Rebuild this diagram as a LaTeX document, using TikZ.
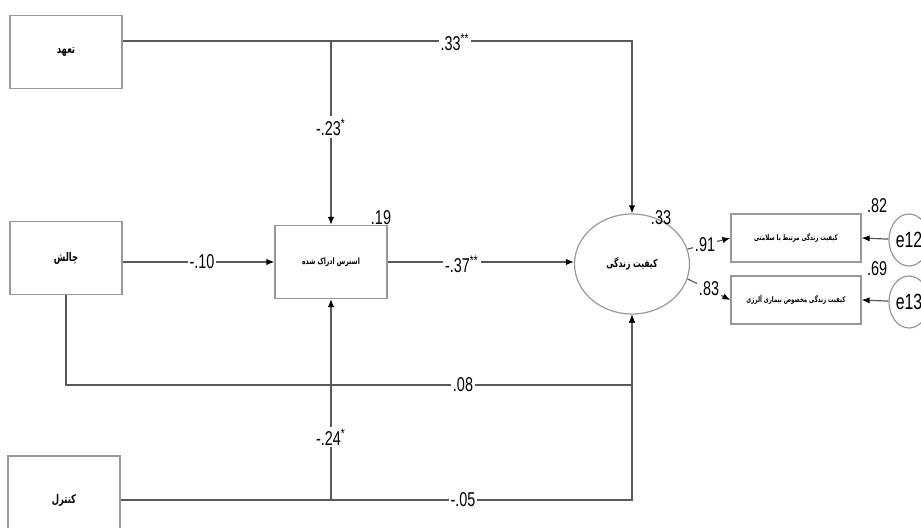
\documentclass[tikz,border=0pt]{standalone}
\usepackage{fontspec}
\setmainfont{Liberation Sans}[FakeStretch=0.72]
\newfontfamily\farsi[Script=Arabic, FakeStretch=0.7]{DejaVu Sans}
\TeXXeTstate=1
\usetikzlibrary{positioning, shapes, arrows.meta, calc}

\newcommand{\fa}[1]{{\farsi\bfseries\beginR #1\endR}}

\begin{document}
\begin{tikzpicture}[x=0.5pt, y=-0.5pt,
    box/.style={draw=gray!80, line width=0.6pt, minimum width=56pt, minimum height=36.5pt, inner sep=0pt, font=\fontsize{6}{6}\selectfont},
    ind/.style={draw=gray!80, line width=0.6pt, minimum width=65pt, minimum height=24pt, inner sep=0pt, font=\fontsize{3.9}{3.9}\selectfont},
    link/.style={draw=gray!70!black, line width=0.6pt},
    arr/.style={link, -{Latex[length=4pt, width=3.2pt, color=black]}},
    coef/.style={fill=white, inner sep=1pt, font=\fontsize{10}{10}\selectfont},
    rsq/.style={inner sep=0pt, font=\fontsize{10}{10}\selectfont},
    err/.style={ellipse, draw=gray!80, line width=0.6pt, minimum width=20pt, minimum height=26pt, inner sep=0pt, font=\fontsize{11}{11}\selectfont}]
    \useasboundingbox (0,0) rectangle (921,528);

    % exogenous variables
    \node (tahod) at (66, 52) [box] {\fa{تعهد}};
    \node (chalesh) at (66, 258) [box] {\fa{چالش}};
    \node (control) at (64, 500) [box, minimum height=44pt] {\fa{کنترل}};

    % mediator and outcome
    \node (stress) at (331, 262) [box, font=\fontsize{4.4}{4.4}\selectfont] {\fa{استرس ادراک شده}};
    \node (qol) at (632, 264) [ellipse, draw=gray!80, line width=0.6pt, minimum width=57.5pt, minimum height=50pt, inner sep=0pt, font=\fontsize{5.5}{5.5}\selectfont] {\fa{کیفیت زندگی}};

    % indicators and errors
    \node (hrq) at (796, 238) [ind] {\fa{کیفیت زندگی مرتبط با سلامتی}};
    \node (asq) at (796, 300) [ind] {\fa{کیفیت زندگی مخصوص بیماری آلرژی}};
    \node (e12) at (909, 240) [err] {e12};
    \node (e13) at (909, 302) [err] {e13};

    \coordinate (topR) at (632, 41);
    \coordinate (midR) at (632, 385);
    \coordinate (lowR) at (632, 500);

    % paths
    \draw[arr] ([yshift=5.5pt]tahod.east) -- (topR) -- (qol.north);
    \draw[arr] (stress.north |- topR) -- (stress.north);
    \draw[arr] (chalesh.east |- stress.west) -- (stress.west);
    \draw[arr] (stress.east) -- (stress.east -| qol.west);
    \draw[arr] (chalesh.south) |- (midR) -- (qol.south);
    \draw[arr] (control.east) -- (lowR) -- (qol.south);
    \draw[arr] (stress.south |- lowR) -- (stress.south);
    \draw[arr] (qol.15) -- (hrq.west);
    \draw[arr] (qol.-15) -- (asq.west);
    \draw[arr] (e12) -- (hrq.east);
    \draw[arr] (e13) -- (asq.east);

    % coefficients
    \node (b33) at (455, 42) [coef] {.33\textsuperscript{**}};
    \node (b23) at (331, 127) [coef] {-.23\textsuperscript{*}};
    \node (b10) at (202, 262) [coef] {-.10};
    \node (b37) at (462, 264) [coef] {-.37\textsuperscript{**}};
    \node (b08) at (463, 385) [coef] {.08};
    \node (b24) at (331, 437) [coef] {-.24\textsuperscript{*}};
    \node (b05) at (463, 500) [coef] {-.05};
    \node (b91) at (705, 245) [coef] {.91};
    \node (b83) at (709, 289) [coef] {.83};

    % explained variance
    \node (r19) at (381, 218) [rsq] {.19};
    \node (r33) at (661, 218) [rsq] {.33};
    \node (r82) at (877, 206) [rsq] {.82};
    \node (r69) at (877, 269) [rsq] {.69};
\end{tikzpicture}
\end{document}
